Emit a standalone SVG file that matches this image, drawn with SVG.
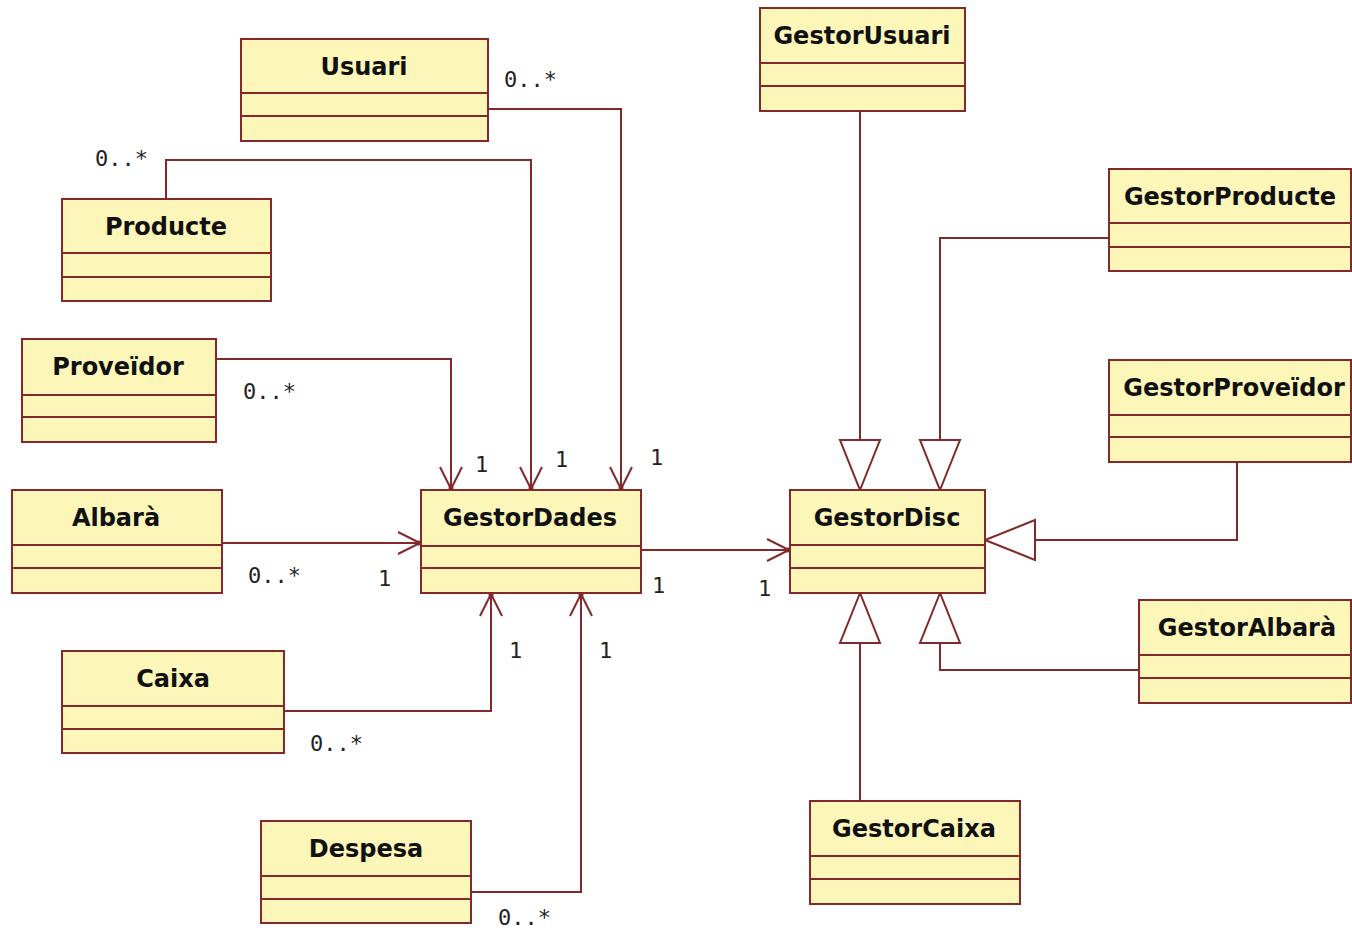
<svg xmlns="http://www.w3.org/2000/svg" width="1352" height="932" viewBox="0 0 1352 932">
<defs>
<style>
.box{fill:#fcf6b8;stroke:#83292b;stroke-width:2}
.div{stroke:#83292b;stroke-width:2}
.name{font-family:"DejaVu Sans",sans-serif;font-weight:bold;font-size:24px;fill:#111;text-anchor:middle}
.lbl{font-family:"DejaVu Sans Mono",monospace;font-size:22px;fill:#222}
.con{fill:none;stroke:#83292b;stroke-width:2}
.assoc{marker-end:url(#open)}
.gen{marker-end:url(#tri)}
</style>
<marker id="open" markerUnits="userSpaceOnUse" markerWidth="30" markerHeight="30" viewBox="-25 -15 30 30" refX="0" refY="0" orient="auto" overflow="visible">
<path d="M-22,-11 L0,0 L-22,11" fill="none" stroke="#83292b" stroke-width="2"/>
<circle cx="-1" cy="0" r="2.5" fill="#83292b"/>
</marker>
<marker id="tri" markerUnits="userSpaceOnUse" markerWidth="60" markerHeight="50" viewBox="-52 -25 60 50" refX="0" refY="0" orient="auto" overflow="visible">
<path d="M0,0 L-50,-20 L-50,20 Z" fill="#fff" stroke="#83292b" stroke-width="2"/>
</marker>
</defs>
<rect width="1352" height="932" fill="#fff"/>

<g id="connectors">
<path class="con assoc" d="M489,109 H621 V489"/>
<path class="con assoc" d="M166,199 V160 H531 V489"/>
<path class="con assoc" d="M216,359 H451 V489"/>
<path class="con assoc" d="M222,543 H420"/>
<path class="con assoc" d="M284,711 H491 V594"/>
<path class="con assoc" d="M471,892 H581 V594"/>
<path class="con assoc" d="M641,550 H789"/>
<path class="con gen" d="M860,111 V490"/>
<path class="con gen" d="M1109,238 H940 V490"/>
<path class="con gen" d="M1237,462 V540 H985"/>
<path class="con gen" d="M1139,670 H940 V593"/>
<path class="con gen" d="M860,801 V593"/>
</g>

<g id="labels">
<text class="lbl" x="504" y="87">0..*</text>
<text class="lbl" x="95" y="166">0..*</text>
<text class="lbl" x="243" y="399">0..*</text>
<text class="lbl" x="248" y="583">0..*</text>
<text class="lbl" x="310" y="751">0..*</text>
<text class="lbl" x="498" y="925">0..*</text>
<text class="lbl" x="475" y="472">1</text>
<text class="lbl" x="555" y="467">1</text>
<text class="lbl" x="650" y="465">1</text>
<text class="lbl" x="378" y="586">1</text>
<text class="lbl" x="652" y="593">1</text>
<text class="lbl" x="758" y="596">1</text>
<text class="lbl" x="509" y="658">1</text>
<text class="lbl" x="599" y="658">1</text>
</g>

<g id="Usuari">
<rect class="box" x="241" y="39" width="247" height="102"/>
<path class="div" d="M241,93 H488 M241,116 H488"/>
<text class="name" x="364" y="75">Usuari</text>
</g>
<g id="Producte">
<rect class="box" x="62" y="199" width="209" height="102"/>
<path class="div" d="M62,253 H271 M62,277 H271"/>
<text class="name" x="166" y="235">Producte</text>
</g>
<g id="Proveidor">
<rect class="box" x="22" y="339" width="194" height="103"/>
<path class="div" d="M22,395 H216 M22,417 H216"/>
<text class="name" x="118" y="375">Proveïdor</text>
</g>
<g id="Albara">
<rect class="box" x="12" y="490" width="210" height="103"/>
<path class="div" d="M12,545 H222 M12,568 H222"/>
<text class="name" x="116" y="526">Albarà</text>
</g>
<g id="Caixa">
<rect class="box" x="62" y="651" width="222" height="102"/>
<path class="div" d="M62,706 H284 M62,729 H284"/>
<text class="name" x="173" y="687">Caixa</text>
</g>
<g id="Despesa">
<rect class="box" x="261" y="821" width="210" height="102"/>
<path class="div" d="M261,876 H471 M261,899 H471"/>
<text class="name" x="366" y="857">Despesa</text>
</g>
<g id="GestorDades">
<rect class="box" x="421" y="490" width="220" height="103"/>
<path class="div" d="M421,546 H641 M421,568 H641"/>
<text class="name" x="530" y="526">GestorDades</text>
</g>
<g id="GestorDisc">
<rect class="box" x="790" y="490" width="195" height="103"/>
<path class="div" d="M790,545 H985 M790,568 H985"/>
<text class="name" x="887" y="526">GestorDisc</text>
</g>
<g id="GestorUsuari">
<rect class="box" x="760" y="8" width="205" height="103"/>
<path class="div" d="M760,63 H965 M760,86 H965"/>
<text class="name" x="862" y="44">GestorUsuari</text>
</g>
<g id="GestorProducte">
<rect class="box" x="1109" y="169" width="242" height="102"/>
<path class="div" d="M1109,223 H1351 M1109,247 H1351"/>
<text class="name" x="1230" y="205">GestorProducte</text>
</g>
<g id="GestorProveidor">
<rect class="box" x="1109" y="360" width="242" height="102"/>
<path class="div" d="M1109,415 H1351 M1109,437 H1351"/>
<text class="name" x="1234" y="396">GestorProveïdor</text>
</g>
<g id="GestorAlbara">
<rect class="box" x="1139" y="600" width="212" height="103"/>
<path class="div" d="M1139,655 H1351 M1139,678 H1351"/>
<text class="name" x="1247" y="636">GestorAlbarà</text>
</g>
<g id="GestorCaixa">
<rect class="box" x="810" y="801" width="210" height="103"/>
<path class="div" d="M810,856 H1020 M810,879 H1020"/>
<text class="name" x="914" y="837">GestorCaixa</text>
</g>
</svg>
